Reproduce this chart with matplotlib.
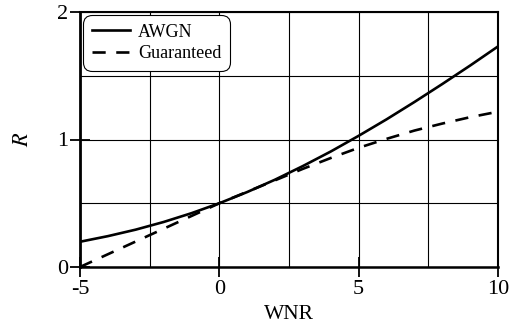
import matplotlib
matplotlib.use("Agg")
import matplotlib.pyplot as plt

wnr = [-5, -4, -3, -2, -1, 0, 1, 2, 3, 4, 5, 6, 7, 8, 9, 10]
awgn = [0.198, 0.242, 0.293, 0.353, 0.422, 0.500, 0.588, 0.685, 0.792, 0.906,
        1.029, 1.158, 1.294, 1.435, 1.580, 1.730]
guaranteed = [0.00, 0.10, 0.20, 0.30, 0.40, 0.50, 0.59, 0.68, 0.77, 0.855,
              0.935, 1.005, 1.07, 1.125, 1.175, 1.218]

xticks = [-5, 0, 5, 10]
yticks = [0, 1, 2]
xgrid = [-5, -2.5, 0, 2.5, 5, 7.5, 10]
ygrid = [0, 0.5, 1, 1.5, 2]

plt.rcParams['font.family'] = ['Liberation Serif', 'DejaVu Serif']
plt.rcParams['mathtext.fontset'] = 'stix'

fig = plt.figure(figsize=(5.12, 3.24), dpi=100)
ax = fig.add_axes([80/512, 57/324, 418/512, 255/324])

for gx in xgrid:
    ax.axvline(gx, color='black', lw=0.8, zorder=1)
for gy in ygrid:
    ax.axhline(gy, color='black', lw=0.8, zorder=1)

ax.plot(wnr, awgn, color='black', lw=1.9, label='AWGN', zorder=3)
ax.plot(wnr, guaranteed, color='black', lw=1.9, ls=(0, (5.0, 4.0)),
        label='Guaranteed', zorder=3)

ax.set_xlim(-5, 10)
ax.set_ylim(0, 2)
ax.set_xticks(xticks)
ax.set_yticks(yticks)
ax.tick_params(direction='inout', length=15, width=1.3, labelsize=16)
ax.tick_params(axis='x', pad=2)
ax.tick_params(axis='y', pad=1)
ax.set_xticklabels([str(v) for v in xticks])
ax.set_yticklabels([str(v) for v in yticks])

for s in ax.spines.values():
    s.set_linewidth(1.5)
ax.spines['left'].set_linewidth(2.0)
ax.spines['bottom'].set_linewidth(1.8)

ax.set_xlabel('WNR', fontsize=15.5, labelpad=4)
ax.set_ylabel('$R$', fontsize=16, labelpad=17)

leg = ax.legend(loc='upper left', fontsize=13, frameon=True, fancybox=True,
                edgecolor='black', framealpha=1, handlelength=2.1,
                borderaxespad=0.15, borderpad=0.5, labelspacing=0.25,
                handletextpad=0.45)
leg.get_frame().set_linewidth(0.8)
leg.get_frame().set_boxstyle('round,pad=0,rounding_size=0.5')
leg.set_zorder(5)

fig.savefig('out.png', dpi=100)
